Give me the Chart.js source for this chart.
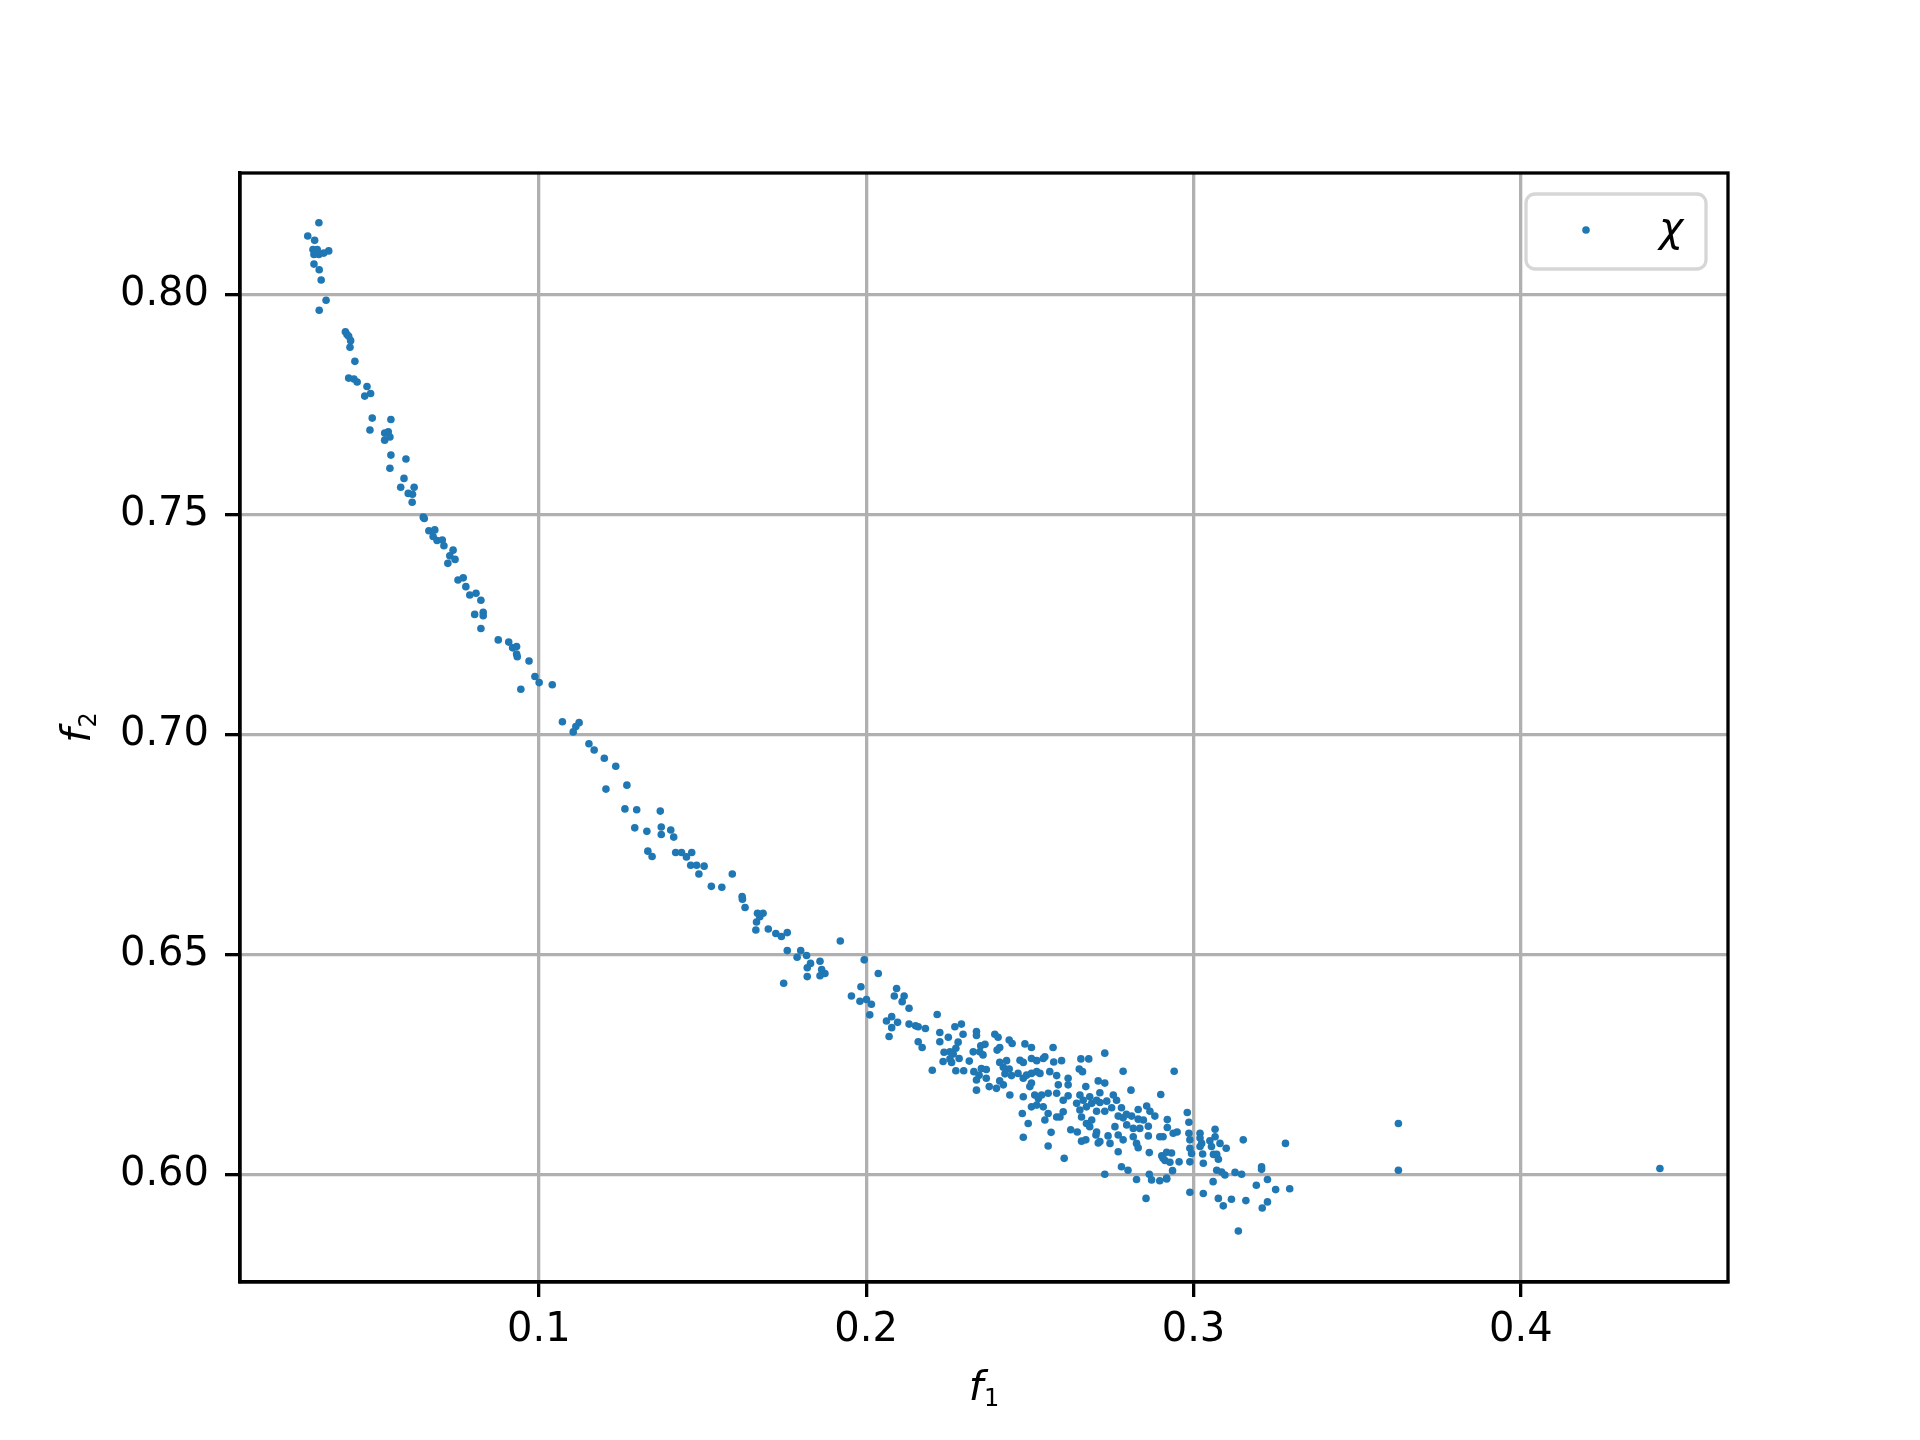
<!DOCTYPE html>
<html>
<head>
<meta charset="utf-8">
<title>f1 vs f2</title>
<script src="https://cdn.jsdelivr.net/npm/chart.js@4.4.1/dist/chart.umd.min.js"></script>
<style>
  body { margin: 0; background: #fff; }
  canvas { display: block; }
</style>
</head>
<body>
<canvas id="paretoChart" width="1920" height="1440"></canvas>
<script>
// values
const f1Values = [
  0.0328,0.0294,0.0315,0.0310,0.0323,0.0313,0.0328,0.0318,0.0358,0.0343,
  0.0313,0.0329,0.0335,0.0350,0.0329,0.0409,0.0414,0.0419,0.0425,0.0423,
  0.0438,0.0419,0.0435,0.0445,0.0475,0.0486,0.0468,
  0.0491,0.0548,0.0484,0.0529,0.0540,0.0545,0.0529,0.0548,0.0594,0.0545,
  0.0588,0.0578,0.0619,0.0601,0.0614,0.0613,0.0647,0.0650,0.0664,0.0682,
  0.0677,0.0689,0.0705,0.0710,0.0738,0.0728,0.0744,0.0722,0.0753,0.0769,
  0.0777,0.0789,0.0808,0.0823,0.0804,0.0830,0.0830,0.0823,0.0876,0.0908,
  0.0920,0.0932,0.0932,0.0934,0.0970,0.0988,0.1001,0.1041,0.0945,
  0.1072,0.1123,0.1113,0.1105,0.1153,0.1169,0.1200,0.1235,0.1205,0.1269,
  0.1263,0.1299,0.1371,0.1293,0.1330,0.1374,0.1374,0.1403,0.1412,0.1333,
  0.1346,0.1418,0.1436,0.1451,0.1467,0.1464,0.1482,0.1505,0.1489,0.1527,
  0.1559,0.1591,0.1621,0.1622,0.1630,0.1668,0.1685,0.1675,0.1665,0.1663,
  0.1701,0.1724,0.1741,0.1759,0.1921,0.1759,0.1800,0.1789,0.1818,0.1830,
  0.1820,0.1820,0.1859,0.1864,0.1874,0.1859,0.1994,0.2037,0.1748,
  0.1955,0.1984,0.1981,0.2001,0.2016,0.2011,0.2093,0.2086,0.2116,0.2110,
  0.2131,0.2062,0.2078,0.2096,0.2078,0.2070,0.2131,0.2151,0.2159,0.2181,
  0.2159,0.2171,0.2217,0.2202,0.2225,0.2225,0.2251,0.2271,0.2291,0.2296,
  0.2281,0.2274,0.2238,0.2256,0.2266,0.2235,0.2256,0.2261,0.2284,0.2274,
  0.2298,0.2315,0.2327,0.2337,0.2337,0.2350,0.2363,0.2347,0.2357,0.2329,
  0.2345,0.2337,0.2352,0.2367,0.2367,0.2337,0.2376,0.2393,0.2403,0.2408,
  0.2400,0.2437,0.2446,0.2408,0.2429,0.2419,0.2437,0.2424,0.2444,0.2408,
  0.2419,0.2398,0.2439,0.2470,0.2480,0.2464,0.2480,0.2490,0.2485,0.2505,
  0.2505,0.2521,0.2541,0.2546,0.2505,0.2521,0.2531,0.2500,0.2505,0.2480,
  0.2515,0.2526,0.2536,0.2505,0.2521,0.2541,0.2477,0.2495,0.2480,0.2546,
  0.2556,0.2556,0.2565,0.2556,0.2605,0.2571,0.2573,0.2597,0.2561,0.2582,
  0.2587,0.2617,0.2617,0.2582,0.2602,0.2617,0.2582,0.2592,0.2602,0.2625,
  0.2645,0.2658,0.2671,0.2656,0.2680,0.2651,0.2661,0.2671,0.2653,0.2663,
  0.2643,0.2653,0.2673,0.2658,0.2683,0.2689,0.2704,0.2673,0.2689,0.2683,
  0.2702,0.2709,0.2709,
  0.2729,0.2785,0.2941,0.2729,0.2809,0.2900,0.2714,0.2755,0.2765,0.2735,
  0.2714,0.2704,0.2729,0.2750,0.2780,0.2770,0.2785,0.2795,0.2811,0.2831,
  0.2857,0.2867,0.2882,0.2831,0.2847,0.2704,0.2760,0.2796,0.2816,0.2836,
  0.2862,0.2714,0.2739,0.2745,0.2770,0.2785,0.2816,0.2826,0.2831,0.2862,
  0.2897,0.2907,0.2770,0.2865,0.2920,0.2920,0.2938,0.2950,0.2903,0.2918,
  0.2933,0.2913,0.2928,0.2907,0.2956,0.2936,0.2918,0.2897,0.2780,0.2800,
  0.2729,0.2826,0.2865,0.2872,0.2918,0.2855,0.2981,0.2986,0.2986,0.2989,
  0.2989,0.2994,0.2989,0.3020,0.3020,0.3025,0.3020,0.3028,0.3030,0.3050,
  0.3066,0.3066,0.3055,0.3061,0.3071,0.3076,0.3081,0.3100,0.3071,0.3086,
  0.3096,0.3127,0.3147,0.3152,0.3281,0.3208,0.3208,0.3226,0.3060,0.2989,
  0.3030,0.3076,0.3091,0.3116,0.3160,0.3192,0.3251,0.3294,0.3226,0.3210,
  0.3137,0.3626,0.3626,0.4425
];
const f2Values = [
  0.8164,0.8134,0.8124,0.8103,0.8103,0.8092,0.8092,0.8098,0.8100,0.8095,
  0.8070,0.8057,0.8034,0.7988,0.7965,0.7916,0.7910,0.7906,0.7896,0.7881,
  0.7849,0.7811,0.7809,0.7802,0.7792,0.7776,0.7770,
  0.7720,0.7717,0.7693,0.7686,0.7689,0.7677,0.7670,0.7636,0.7627,0.7606,
  0.7583,0.7563,0.7563,0.7549,0.7547,0.7529,0.7495,0.7492,0.7464,0.7466,
  0.7451,0.7442,0.7443,0.7430,0.7420,0.7407,0.7399,0.7390,0.7352,0.7357,
  0.7337,0.7318,0.7322,0.7306,0.7274,0.7279,0.7271,0.7242,0.7216,0.7211,
  0.7198,0.7201,0.7184,0.7178,0.7168,0.7133,0.7119,0.7114,0.7104,
  0.7030,0.7028,0.7019,0.7007,0.6980,0.6966,0.6947,0.6929,0.6877,0.6886,
  0.6832,0.6830,0.6827,0.6789,0.6781,0.6791,0.6774,0.6784,0.6768,0.6736,
  0.6724,0.6733,0.6733,0.6723,0.6733,0.6704,0.6704,0.6702,0.6684,0.6656,
  0.6654,0.6684,0.6633,0.6627,0.6608,0.6595,0.6595,0.6587,0.6575,0.6557,
  0.6559,0.6549,0.6542,0.6551,0.6532,0.6510,0.6510,0.6495,0.6499,0.6481,
  0.6471,0.6451,0.6486,0.6467,0.6458,0.6453,0.6489,0.6458,0.6436,
  0.6407,0.6428,0.6395,0.6399,0.6388,0.6364,0.6424,0.6407,0.6407,0.6394,
  0.6379,0.6350,0.6360,0.6347,0.6335,0.6315,0.6343,0.6339,0.6337,0.6333,
  0.6303,0.6290,0.6365,0.6238,0.6324,0.6303,0.6313,0.6337,0.6343,0.6320,
  0.6302,0.6288,0.6279,0.6280,0.6275,0.6258,0.6264,0.6256,0.6265,0.6237,
  0.6237,0.6259,0.6280,0.6326,0.6317,0.6294,0.6297,0.6280,0.6273,0.6235,
  0.6227,0.6216,0.6242,0.6240,0.6220,0.6193,0.6201,0.6320,0.6313,0.6290,
  0.6284,0.6307,0.6299,0.6256,0.6260,0.6245,0.6241,0.6230,0.6226,0.6214,
  0.6205,0.6197,0.6182,0.6261,0.6256,0.6231,0.6220,0.6227,0.6298,0.6290,
  0.6265,0.6260,0.6265,0.6269,0.6231,0.6235,0.6231,0.6201,0.6209,0.6178,
  0.6182,0.6174,0.6182,0.6155,0.6159,0.6155,0.6140,0.6117,0.6086,0.6125,
  0.6140,0.6186,0.6097,0.6066,0.6038,0.6290,0.6257,0.6260,0.6235,0.6226,
  0.6205,0.6220,0.6205,0.6186,0.6170,0.6180,0.6132,0.6132,0.6144,0.6103,
  0.6098,0.6077,0.6080,0.6264,0.6264,0.6241,0.6235,0.6201,0.6182,0.6170,
  0.6163,0.6148,0.6155,0.6132,0.6178,0.6163,0.6170,0.6117,0.6125,0.6110,
  0.6091,0.6073,0.6214,
  0.6277,0.6236,0.6236,0.6209,0.6193,0.6183,0.6187,0.6182,0.6170,0.6168,
  0.6165,0.6145,0.6145,0.6153,0.6153,0.6134,0.6130,0.6138,0.6134,0.6149,
  0.6157,0.6145,0.6134,0.6127,0.6125,0.6098,0.6110,0.6114,0.6106,0.6106,
  0.6111,0.6076,0.6089,0.6072,0.6091,0.6080,0.6087,0.6072,0.6062,0.6089,
  0.6087,0.6087,0.6053,0.6051,0.6126,0.6108,0.6095,0.6098,0.6044,0.6052,
  0.6050,0.6033,0.6029,0.6038,0.6030,0.6010,0.5991,0.5987,0.6019,0.6011,
  0.6002,0.5990,0.6002,0.5989,0.5993,0.5947,0.6142,0.6120,0.6095,0.6080,
  0.6061,0.6049,0.6030,0.6095,0.6084,0.6072,0.6065,0.6048,0.6027,0.6078,
  0.6087,0.6104,0.6065,0.6047,0.6047,0.6036,0.6072,0.6061,0.6011,0.6007,
  0.6000,0.6006,0.6002,0.6080,0.6072,0.6019,0.6013,0.5990,0.5985,0.5961,
  0.5958,0.5947,0.5930,0.5945,0.5942,0.5977,0.5967,0.5969,0.5939,0.5925,
  0.5873,0.6117,0.6011,0.6015
];
const f1Ticks = [0.1, 0.2, 0.3, 0.4];
const f2Ticks = [0.60, 0.65, 0.70, 0.75, 0.80];
const seriesLabel = 'χ';
// axis names: italic letter plus a subscript digit
const xAxisName = ['f', '1'];
const yAxisName = ['f', '2'];

const blue = '#1f77b4';
const tickFont = { family: 'DejaVu Sans', size: 40 };

const points = f1Values.map((x, i) => ({ x: x, y: f2Values[i] }));

// matplotlib draws a box round the whole axes
const framePlugin = {
  id: 'frame',
  afterDatasetsDraw(chart) {
    const { ctx, chartArea: a } = chart;
    ctx.save();
    ctx.strokeStyle = '#000';
    ctx.lineWidth = 3.3;
    ctx.strokeRect(a.left, a.top, a.right - a.left, a.bottom - a.top);
    ctx.restore();
  }
};

// draws "f" in italic with a smaller, lowered digit, centred on cx
function drawAxisName(ctx, name, cx, baseline) {
  const main = 'italic 41px "DejaVu Sans"';
  const sub = '24px "DejaVu Sans"';
  ctx.font = main;
  const w1 = ctx.measureText(name[0]).width;
  ctx.font = sub;
  const w2 = ctx.measureText(name[1]).width;
  const start = cx - (w1 + w2 + 1) / 2;
  ctx.textBaseline = 'alphabetic';
  ctx.textAlign = 'left';
  ctx.font = main;
  ctx.fillText(name[0], start, baseline);
  ctx.font = sub;
  ctx.fillText(name[1], start + w1 + 1, baseline + 6);
}

const axisNamePlugin = {
  id: 'axisNames',
  afterDraw(chart) {
    const { ctx, chartArea: a } = chart;
    ctx.save();
    ctx.fillStyle = '#000';
    drawAxisName(ctx, xAxisName, (a.left + a.right) / 2, 1400);
    ctx.translate(90, (a.top + a.bottom) / 2);
    ctx.rotate(-Math.PI / 2);
    drawAxisName(ctx, yAxisName, 0, 0);
    ctx.restore();
  }
};

// legend in the upper right corner, matplotlib style
const legendPlugin = {
  id: 'mplLegend',
  afterDraw(chart) {
    const { ctx, chartArea: a } = chart;
    const ds = chart.data.datasets[0];
    const w = 180, h = 75, r = 9;
    const left = a.right - 22 - w;
    const top = a.top + 21;
    ctx.save();
    ctx.beginPath();
    ctx.roundRect(left, top, w, h, r);
    ctx.fillStyle = 'rgba(255,255,255,0.8)';
    ctx.fill();
    ctx.lineWidth = 3.3;
    ctx.strokeStyle = '#d6d6d6';
    ctx.stroke();
    ctx.beginPath();
    ctx.arc(left + 60, top + 36, 3.8, 0, Math.PI * 2);
    ctx.fillStyle = ds.backgroundColor;
    ctx.fill();
    ctx.fillStyle = '#000';
    ctx.font = 'italic 41px "DejaVu Sans"';
    ctx.textBaseline = 'alphabetic';
    ctx.fillText(ds.label, left + 133, top + 47);
    ctx.restore();
  }
};

const ctx = document.getElementById('paretoChart').getContext('2d');
const paretoChart = new Chart(ctx, {
  type: 'scatter',
  data: {
    datasets: [{
      label: seriesLabel,
      data: points,
      backgroundColor: blue,
      borderWidth: 0,
      pointRadius: 3.8,
      pointHoverRadius: 3.8
    }]
  },
  options: {
    responsive: false,
    animation: false,
    devicePixelRatio: 1,
    layout: { padding: { top: 173, right: 192, left: 0, bottom: 0 } },
    plugins: {
      legend: { display: false },
      tooltip: { enabled: false }
    },
    scales: {
      x: {
        type: 'linear',
        min: 0.0087,
        max: 0.4633,
        afterFit: (scale) => { scale.height = 158; },
        afterBuildTicks: (scale) => { scale.ticks = f1Ticks.map(v => ({ value: v })); },
        ticks: {
          font: tickFont,
          color: '#000',
          padding: 10,
          maxRotation: 0,
          callback: (v) => Number(v).toFixed(1)
        },
        grid: { color: '#b0b0b0', lineWidth: 3.3, tickColor: '#000', tickLength: 15, tickWidth: 3.3 },
        border: { color: '#000', width: 3.3 }
      },
      y: {
        type: 'linear',
        min: 0.5757,
        max: 0.8277,
        afterFit: (scale) => { scale.width = 240; },
        afterBuildTicks: (scale) => { scale.ticks = f2Ticks.map(v => ({ value: v })); },
        ticks: {
          font: tickFont,
          color: '#000',
          padding: 16,
          callback: (v) => Number(v).toFixed(2)
        },
        grid: { color: '#b0b0b0', lineWidth: 3.3, tickColor: '#000', tickLength: 15, tickWidth: 3.3 },
        border: { color: '#000', width: 3.3 }
      }
    }
  },
  plugins: [framePlugin, axisNamePlugin, legendPlugin]
});
</script>
</body>
</html>
